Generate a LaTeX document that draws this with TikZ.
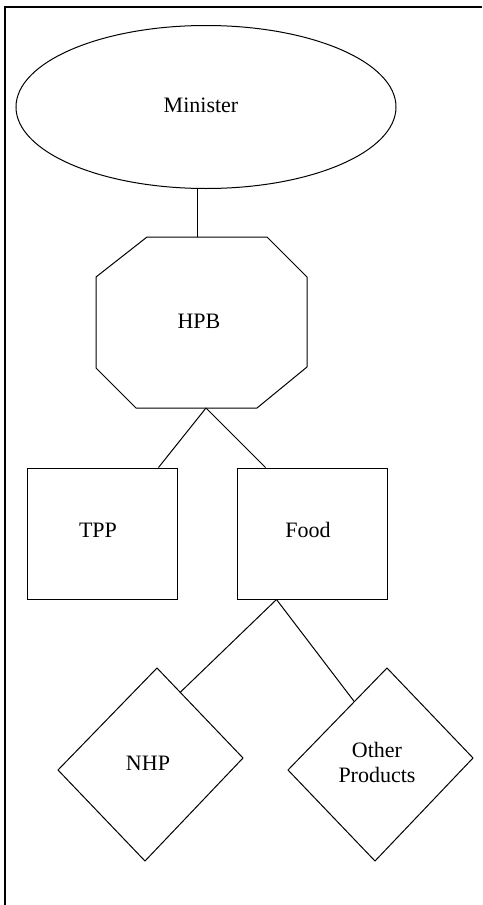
\documentclass[tikz,border=0pt]{standalone}
\usepackage{fontspec}
\setmainfont{Liberation Serif}
\usetikzlibrary{calc,shapes.geometric}
\tikzset{
  shapeline/.style={draw=black, line width=1pt},
  conn/.style={draw=black, line width=1pt},
  lbl/.style={font=\fontsize{22}{25}\selectfont, align=center, inner sep=0pt},
  boxnode/.style={shapeline, rectangle, minimum width=150pt, minimum height=131pt, inner sep=0pt, font=\fontsize{22}{25}\selectfont},
  ellnode/.style={shapeline, ellipse, minimum width=380pt, minimum height=163pt, inner sep=0pt, font=\fontsize{22}{25}\selectfont}
}
\begin{document}
\begin{tikzpicture}[x=1pt,y=-1pt]
\useasboundingbox (0,0) rectangle (482,905);
% frame
\draw[line width=1.6pt] (482,7) -- (5,7) -- (5,905);
% Minister
\node[ellnode] (min) at (206,107) {};
\node[lbl] (minl) at (201,105) {Minister};
% HPB octagon
\coordinate (h1) at (147,237);
\coordinate (h2) at (267,237);
\coordinate (h3) at (307,277);
\coordinate (h4) at (307,367);
\coordinate (h5) at (257,408);
\coordinate (h6) at (136,408);
\coordinate (h7) at (96,368);
\coordinate (h8) at (96,277);
\draw[shapeline] (h1) -- (h2) -- (h3) -- (h4) -- (h5) -- (h6) -- (h7) -- (h8) -- cycle;
\node[lbl] (hpb) at (199,321) {HPB};
\coordinate (htop) at (197,237);
\coordinate (hbot) at (206,408);
% boxes
\node[boxnode] (tpp) at (102,533.5) {};
\node[lbl] (tppl) at (98,530) {TPP};
\node[boxnode] (food) at (312,533.5) {};
\node[lbl] (foodl) at (308,530) {Food};
% NHP diamond
\coordinate (n1) at (157,668);
\coordinate (n2) at (243,758);
\coordinate (n3) at (145,861);
\coordinate (n4) at (58,770);
\draw[shapeline] (n1) -- (n2) -- (n3) -- (n4) -- cycle;
\node[lbl] (nhp) at (148,763) {NHP};
% Other Products diamond
\coordinate (o1) at (387,668);
\coordinate (o2) at (473,758);
\coordinate (o3) at (375,861);
\coordinate (o4) at (288,770);
\draw[shapeline] (o1) -- (o2) -- (o3) -- (o4) -- cycle;
\node[lbl] (oth) at (377,762) {Other\\Products};
% connectors
\draw[conn] (min.south -| htop) -- (htop);
\draw[conn] (hbot) -- ($(tpp.north east)+(-19,0)$);
\draw[conn] (hbot) -- ($(food.north west)+(29,0)$);
\draw[conn] ($(food.south west)+(40,0)$) -- ($(n1)!0.27!(n2)$);
\draw[conn] ($(food.south west)+(40,0)$) -- ($(o4)!0.67!(o1)$);
\end{tikzpicture}
\end{document}
